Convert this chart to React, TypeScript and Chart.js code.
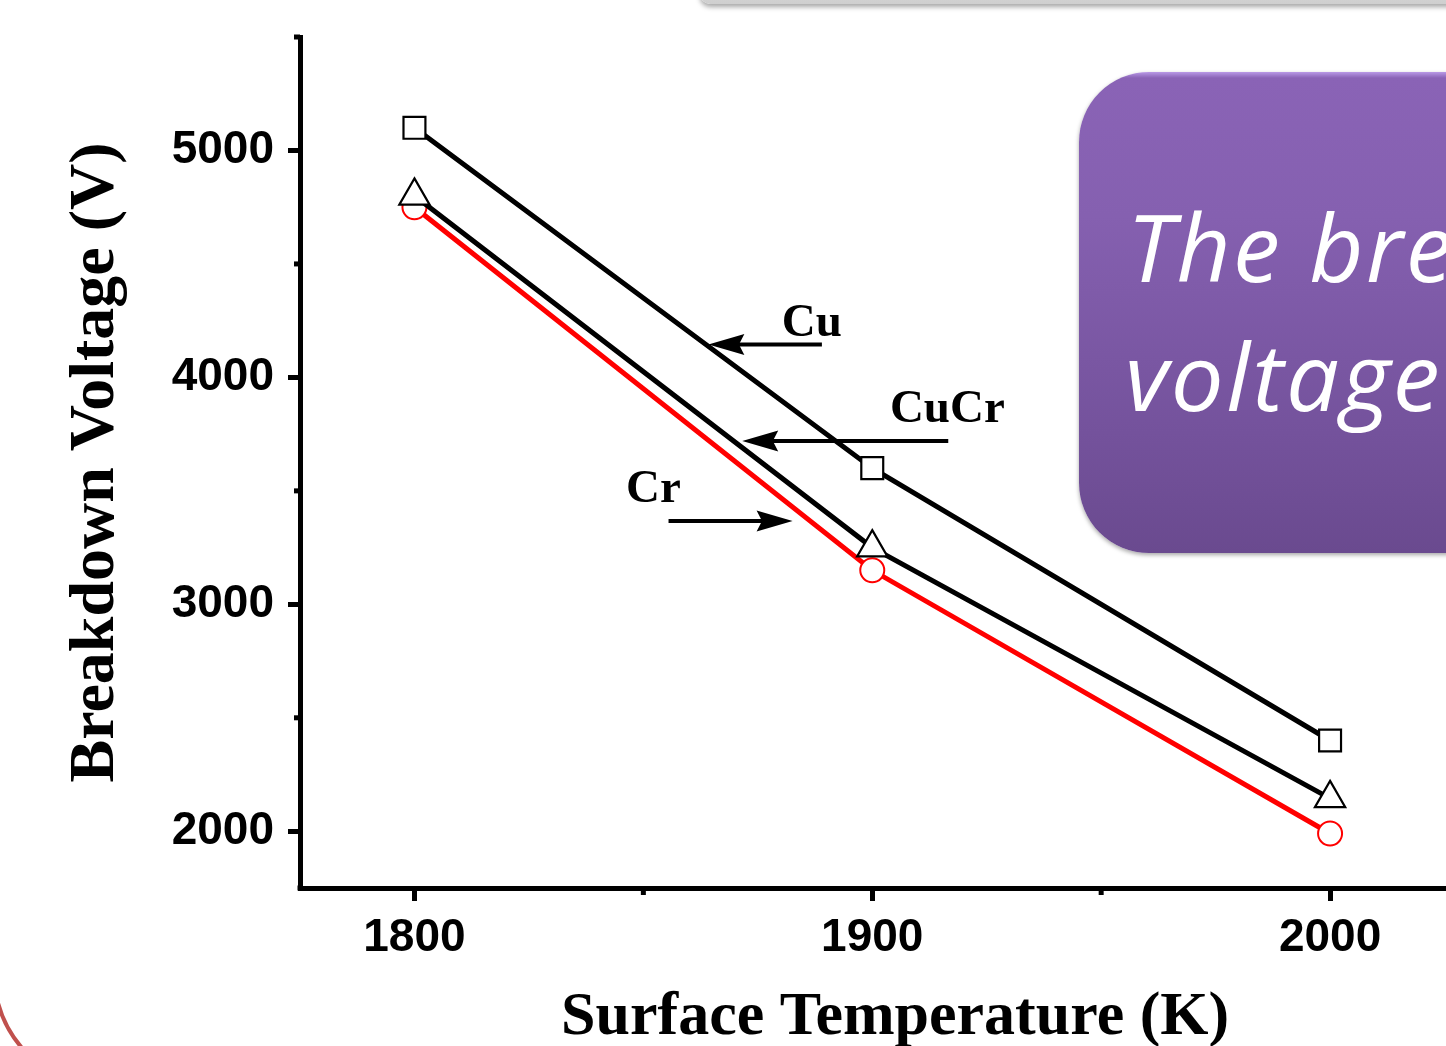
import React, { useEffect, useRef } from 'react';
import { Chart, registerables } from 'chart.js';

Chart.register(...registerables);

// ---- data ----
const temperatures = [1800, 1900, 2000];
const cuVoltage = [5100, 3600, 2400];
const cuCrVoltage = [4800, 3250, 2145];
const crVoltage = [4750, 3150, 1990];
const seriesNames = ['Cu', 'CuCr', 'Cr'];

// axis ranges / ticks
const xMin = 1775;
const xMax = 2035;
const xTickValues = [1800, 1850, 1900, 1950, 2000];
const xLabelStep = 100;
const yMin = 1750;
const yMax = 5500;
const yTickValues = [2000, 2500, 3000, 3500, 4000, 4500, 5000, 5500];
const yLabelStep = 1000;

// annotation labels and arrows (data coordinates)
const noteText = ['Cu', 'CuCr', 'Cr'];
const noteX = [1886.8, 1916.4, 1852.2];
const noteY = [4183, 3803, 3451];
const arrowTailX = [1889, 1916.6, 1855.5];
const arrowTipX = [1864.2, 1871.6, 1882.6];
const arrowY = [4145, 3720, 3367];

const toPoints = (vals: number[]) => temperatures.map((t, i) => ({ x: t, y: vals[i] }));

const decorPlugin = {
  id: 'decor',
  afterDraw(chart: any) {
    const { ctx, scales, chartArea } = chart;
    const xs = scales.x;
    const ys = scales.y;
    ctx.save();
    // minor ticks
    ctx.strokeStyle = '#000';
    ctx.lineWidth = 5;
    ys.ticks.forEach((t: any) => {
      if (t.value % yLabelStep !== 0) {
        const py = ys.getPixelForValue(t.value);
        ctx.beginPath();
        ctx.moveTo(chartArea.left - 6, py);
        ctx.lineTo(chartArea.left, py);
        ctx.stroke();
      }
    });
    xs.ticks.forEach((t: any) => {
      if (t.value % xLabelStep !== 0) {
        const px = xs.getPixelForValue(t.value);
        ctx.beginPath();
        ctx.moveTo(px, chartArea.bottom);
        ctx.lineTo(px, chartArea.bottom + 7);
        ctx.stroke();
      }
    });
    // corner fill
    ctx.fillStyle = '#000';
    ctx.fillRect(chartArea.left - 2.5, chartArea.bottom - 2.5, 5, 5);
    // annotations
    ctx.font = 'bold 47px "Liberation Serif"';
    ctx.textAlign = 'center';
    ctx.textBaseline = 'alphabetic';
    noteText.forEach((name, i) => {
      ctx.fillText(name, xs.getPixelForValue(noteX[i]), ys.getPixelForValue(noteY[i]));
      const x0 = xs.getPixelForValue(arrowTailX[i]);
      const x1 = xs.getPixelForValue(arrowTipX[i]);
      const yy = ys.getPixelForValue(arrowY[i]);
      const dir = Math.sign(x1 - x0);
      const headLen = 36;
      const half = 10.5;
      ctx.lineWidth = 4;
      ctx.beginPath();
      ctx.moveTo(x0, yy);
      ctx.lineTo(x1 - dir * headLen * 0.7, yy);
      ctx.stroke();
      ctx.beginPath();
      ctx.moveTo(x1, yy);
      ctx.lineTo(x1 - dir * headLen, yy - half);
      ctx.lineTo(x1 - dir * headLen * 0.85, yy);
      ctx.lineTo(x1 - dir * headLen, yy + half);
      ctx.closePath();
      ctx.fill();
    });
    ctx.restore();
  },
};

export default function App() {
  const ref = useRef<HTMLCanvasElement>(null);

  useEffect(() => {
    if (!ref.current) return;
    const chart = new Chart(ref.current, {
      type: 'line',
      data: {
        datasets: [
          {
            label: seriesNames[0],
            data: toPoints(cuVoltage),
            borderColor: '#000',
            borderWidth: 5,
            pointStyle: 'rect',
            pointRadius: 15.5,
            pointBorderWidth: 2.2,
            pointBorderColor: '#000',
            pointBackgroundColor: '#fff',
            tension: 0,
          },
          {
            label: seriesNames[1],
            data: toPoints(cuCrVoltage),
            borderColor: '#000',
            borderWidth: 5,
            pointStyle: 'triangle',
            pointRadius: 17.5,
            pointBorderWidth: 2.2,
            pointBorderColor: '#000',
            pointBackgroundColor: '#fff',
            tension: 0,
          },
          {
            label: seriesNames[2],
            data: toPoints(crVoltage),
            borderColor: '#ff0000',
            borderWidth: 5,
            pointStyle: 'circle',
            pointRadius: 12,
            pointBorderWidth: 2,
            pointBorderColor: '#ff0000',
            pointBackgroundColor: '#fff',
            tension: 0,
          },
        ],
      },
      options: {
        responsive: false,
        animation: false,
        layout: { padding: { top: 37, left: 0, right: 0, bottom: 0 } },
        plugins: {
          legend: { display: false },
          tooltip: { enabled: false },
          title: { display: false },
        },
        scales: {
          x: {
            type: 'linear',
            position: 'bottom',
            bounds: 'data',
            min: xMin,
            max: xMax,
            afterBuildTicks: (s: any) => {
              s.ticks = xTickValues.map((v) => ({ value: v }));
            },
            afterFit: (s: any) => {
              s.height = 158;
              s.paddingLeft = 0;
              s.paddingRight = 0;
            },
            ticks: {
              autoSkip: false,
              maxRotation: 0,
              color: '#000',
              padding: 10,
              font: { family: '"Liberation Sans"', weight: 'bold', size: 46 },
              callback: (v: any) => (Number(v) % xLabelStep === 0 ? String(v) : ''),
            },
            grid: {
              display: true,
              drawOnChartArea: false,
              drawTicks: true,
              tickLength: 13,
              tickWidth: 5,
              tickColor: (c: any) => (c.tick && c.tick.value % xLabelStep === 0 ? '#000' : 'rgba(0,0,0,0)'),
            },
            border: { display: true, color: '#000', width: 5 },
            title: {
              display: true,
              text: 'Surface Temperature (K)',
              color: '#000',
              font: { family: '"Liberation Serif"', weight: 'bold', size: 62, lineHeight: 0.9 },
              padding: { top: 0, bottom: 0 },
            },
          },
          y: {
            type: 'linear',
            position: 'left',
            bounds: 'data',
            min: yMin,
            max: yMax,
            afterBuildTicks: (s: any) => {
              s.ticks = yTickValues.map((v) => ({ value: v }));
            },
            afterFit: (s: any) => {
              s.width = 300;
              s.paddingTop = 0;
              s.paddingBottom = 0;
            },
            ticks: {
              autoSkip: false,
              color: '#000',
              padding: 14,
              font: { family: '"Liberation Sans"', weight: 'bold', size: 46 },
              callback: (v: any) => (Number(v) % yLabelStep === 0 ? String(v) : ''),
            },
            grid: {
              display: true,
              drawOnChartArea: false,
              drawTicks: true,
              tickLength: 12,
              tickWidth: 5,
              tickColor: (c: any) => (c.tick && c.tick.value % yLabelStep === 0 ? '#000' : 'rgba(0,0,0,0)'),
            },
            border: { display: true, color: '#000', width: 5 },
            title: {
              display: true,
              text: 'Breakdown Voltage (V)',
              color: '#000',
              font: { family: '"Liberation Serif"', weight: 'bold', size: 64, lineHeight: 1.2 },
              padding: { top: 58, bottom: 0 },
            },
          },
        },
      },
      plugins: [decorPlugin],
    } as any);
    return () => chart.destroy();
  }, []);

  return (
    <div
      style={{
        position: 'fixed',
        left: 0,
        top: 0,
        width: 1446,
        height: 1046,
        overflow: 'hidden',
        background: '#fff',
      }}
    >
      <canvas
        ref={ref}
        width={1510}
        height={1046}
        style={{ position: 'absolute', left: 0, top: 0, width: 1510, height: 1046, display: 'block' }}
      />
      <div
        style={{
          position: 'absolute',
          left: 700,
          top: -60,
          width: 820,
          height: 64,
          borderRadius: 10,
          background: 'linear-gradient(to bottom, #e6e6e6, #cfcfcf)',
          boxShadow: '0 3px 5px rgba(0,0,0,0.35)',
        }}
      />
      <div
        style={{
          position: 'absolute',
          left: 1079,
          top: 72,
          width: 520,
          height: 481,
          boxSizing: 'border-box',
          borderRadius: 70,
          background: 'linear-gradient(to bottom, #b999e6 0px, #8a63b6 6px, #8560b0 30%, #74529c 75%, #6a4a8f 100%)',
          boxShadow: '0 2px 4px rgba(0,0,0,0.35)',
          color: '#fff',
          fontFamily: '"Open Sans", "Liberation Sans", sans-serif',
          fontStyle: 'italic',
          fontSize: 94,
          letterSpacing: '2.5px',
        }}
      >
        <div style={{ position: 'absolute', left: 48, top: 127, lineHeight: '94px', whiteSpace: 'nowrap' }}>The bre</div>
        <div style={{ position: 'absolute', left: 46, top: 256, lineHeight: '94px', whiteSpace: 'nowrap' }}>voltage</div>
      </div>
      <svg
        width={60}
        height={60}
        style={{ position: 'absolute', left: 0, top: 986 }}
        viewBox="0 986 60 60"
      >
        <path d="M -2 1003 A 115 115 0 0 0 22 1048" fill="none" stroke="#c0504d" strokeWidth={4} />
      </svg>
    </div>
  );
}
